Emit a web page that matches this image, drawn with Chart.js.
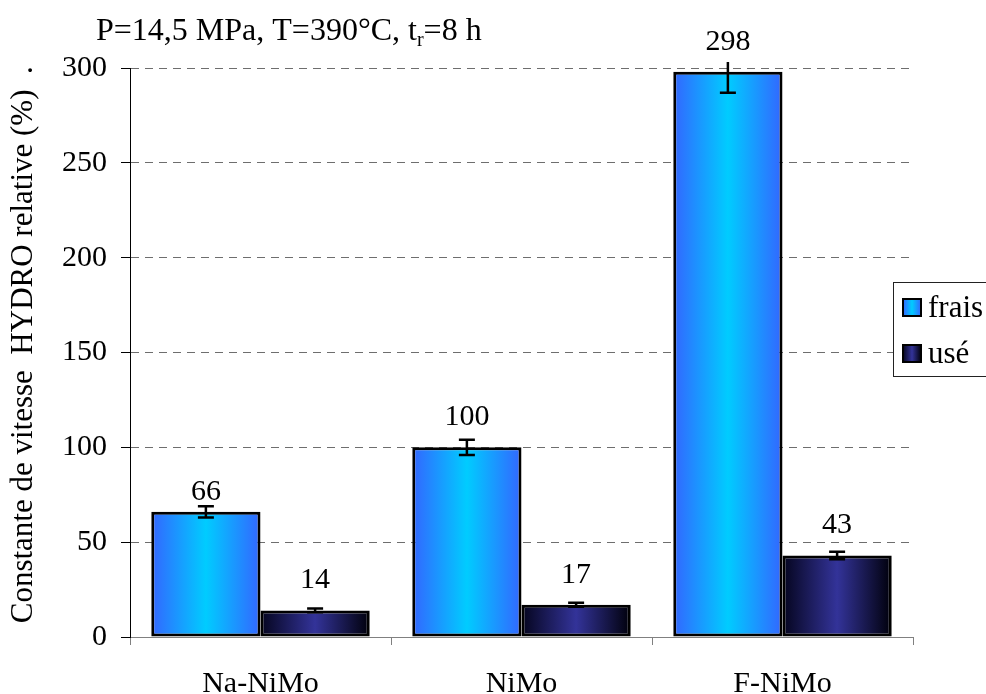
<!DOCTYPE html>
<html>
<head>
<meta charset="utf-8">
<script src="https://cdn.jsdelivr.net/npm/chart.js@4/dist/chart.umd.min.js"></script>
<style>
  body { margin: 0; background: #fff; }
  canvas { display: block; }
</style>
</head>
<body>
<canvas id="hydroChart" width="986" height="694"></canvas>
<script>
// values
const categories = ['Na-NiMo', 'NiMo', 'F-NiMo'];
const frais = [66, 100, 298];
const use = [14, 17, 43];
const fraisErr = [3, 4, 11];
const useErr = [1, 1, 2];
const yTicks = [0, 50, 100, 150, 200, 250, 300];

const SERIF = '"Liberation Serif", "DejaVu Serif", serif';

// horizontal gradients for the bars
const fills = [
    [[0, '#3366ff'], [0.5, '#00ccff'], [1, '#3366ff']],
    [[0, '#05051e'], [0.5, '#333399'], [1, '#00000a']]
];

function makeGradient(ctx, left, width, stops) {
    const g = ctx.createLinearGradient(left, 0, left + width, 0);
    stops.forEach(s => g.addColorStop(s[0], s[1]));
    return g;
}

const gradientBars = {
    id: 'gradientBars',
    beforeDatasetsDraw(chart) {
        const ctx = chart.ctx;
        chart.data.datasets.forEach((ds, i) => {
            chart.getDatasetMeta(i).data.forEach(el => {
                const {x, width} = el.getProps(['x', 'width'], true);
                const g = makeGradient(ctx, x - width / 2, width, fills[i]);
                el.options = Object.assign({}, el.options, {backgroundColor: g, borderColor: '#000'});
            });
        });
    }
};

const errorBars = {
    id: 'errorBars',
    afterDatasetsDraw(chart) {
        const ctx = chart.ctx;
        const y = chart.scales.y;
        const errs = [fraisErr, useErr];
        ctx.save();
        ctx.strokeStyle = '#000';
        ctx.lineWidth = 2.5;
        chart.data.datasets.forEach((ds, i) => {
            chart.getDatasetMeta(i).data.forEach((el, j) => {
                const v = ds.data[j];
                const clipped = v + errs[i][j] > y.max;
                // error bars running past the top are cut just above the plot, no cap
                const top = clipped ? chart.chartArea.top - 6 : y.getPixelForValue(v + errs[i][j]);
                const bot = y.getPixelForValue(v - errs[i][j]);
                ctx.beginPath();
                ctx.moveTo(el.x, top); ctx.lineTo(el.x, bot);
                if (!clipped) { ctx.moveTo(el.x - 8, top); ctx.lineTo(el.x + 8, top); }
                ctx.moveTo(el.x - 8, bot); ctx.lineTo(el.x + 8, bot);
                ctx.stroke();
            });
        });
        ctx.restore();
    }
};

const valueLabels = {
    id: 'valueLabels',
    afterDatasetsDraw(chart) {
        const ctx = chart.ctx;
        ctx.save();
        ctx.font = '30px ' + SERIF;
        ctx.fillStyle = '#000';
        ctx.textAlign = 'center';
        ctx.textBaseline = 'alphabetic';
        chart.data.datasets.forEach((ds, i) => {
            chart.getDatasetMeta(i).data.forEach((el, j) => {
                // the 66 label sits a little lower in the original
                const gap = (i === 0 && j === 0) ? 12 : 22;
                ctx.fillText(String(ds.data[j]), el.x, el.y - gap);
            });
        });
        ctx.restore();
    }
};

// title with subscript r, and the boxed legend on the right
const annotations = {
    id: 'annotations',
    afterDraw(chart) {
        const ctx = chart.ctx;
        ctx.save();
        ctx.fillStyle = '#000';
        ctx.textBaseline = 'alphabetic';
        ctx.textAlign = 'left';
        let x = 96;
        ctx.font = '32px ' + SERIF;
        const a = 'P=14,5 MPa, T=390°C, t';
        ctx.fillText(a, x, 40);
        x += ctx.measureText(a).width;
        ctx.font = '20px ' + SERIF;
        ctx.fillText('r', x, 46);
        x += ctx.measureText('r').width;
        ctx.font = '32px ' + SERIF;
        ctx.fillText('=8 h', x, 40);

        // legend
        ctx.fillStyle = '#fff';
        ctx.fillRect(893.5, 282.5, 110, 94);
        ctx.strokeStyle = '#222';
        ctx.lineWidth = 1;
        ctx.strokeRect(893.5, 282.5, 110, 94);
        const items = [['frais', 299], ['usé', 345]];
        items.forEach((it, i) => {
            const sx = 903, sy = it[1], w = 18, h = 17;
            ctx.fillStyle = makeGradient(ctx, sx, w, fills[i]);
            ctx.fillRect(sx, sy, w, h);
            ctx.strokeStyle = '#000';
            ctx.lineWidth = 2;
            ctx.strokeRect(sx, sy, w, h);
            ctx.fillStyle = '#000';
            ctx.font = '31px ' + SERIF;
            ctx.fillText(it[0], 928, sy + 18);
        });
        ctx.restore();
    }
};

new Chart(document.getElementById('hydroChart'), {
    type: 'bar',
    data: {
        labels: categories,
        datasets: [
            { label: 'frais', data: frais, backgroundColor: '#00ccff', borderColor: '#000', borderWidth: 3, borderSkipped: false },
            { label: 'usé', data: use, backgroundColor: '#333399', borderColor: '#000', borderWidth: 3, borderSkipped: false }
        ]
    },
    options: {
        responsive: false,
        animation: false,
        layout: { padding: { top: 68, right: 73, left: 0, bottom: 0 } },
        datasets: {
            bar: {
                categoryPercentage: 0.837,
                barPercentage: 1
            }
        },
        plugins: {
            legend: { display: false },
            tooltip: { enabled: false },
            colors: { enabled: false }
        },
        scales: {
            x: {
                afterFit(scale) { scale.height = 57; },
                grid: {
                    drawOnChartArea: false,
                    drawTicks: true,
                    tickLength: 8,
                    tickColor: '#808080',
                    tickWidth: 1
                },
                border: { color: '#808080', width: 1 },
                ticks: {
                    color: '#000',
                    font: { family: SERIF, size: 30 },
                    padding: 21,
                    maxRotation: 0
                }
            },
            y: {
                min: 0,
                max: 300,
                afterFit(scale) { scale.width = 130; },
                afterBuildTicks(scale) { scale.ticks = yTicks.map(v => ({ value: v })); },
                grid: {
                    color: c => (c.tick && c.tick.value === 0) ? 'rgba(0,0,0,0)' : '#6e6e6e',
                    lineWidth: 1,
                    tickColor: '#000',
                    tickLength: 9,
                    tickWidth: 1,
                    tickBorderDash: []
                },
                border: { color: '#000', width: 1, dash: [8, 6] },
                ticks: {
                    color: '#000',
                    font: { family: SERIF, size: 30 },
                    padding: 14
                },
                title: {
                    display: true,
                    // leading spaces nudge the visible text upward like the original
                    text: '  Constante de vitesse  HYDRO relative (%)  .',
                    color: '#000',
                    font: { family: SERIF, size: 31 },
                    padding: { top: 5, bottom: 0 }
                }
            }
        }
    },
    plugins: [gradientBars, errorBars, valueLabels, annotations]
});
</script>
</body>
</html>
